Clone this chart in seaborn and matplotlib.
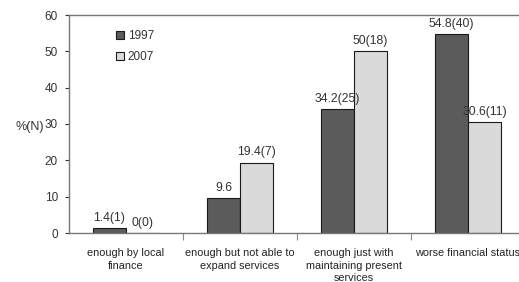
import pandas as pd
import numpy as np
import matplotlib
matplotlib.use('Agg')
import matplotlib.pyplot as plt
import seaborn as sns

# data
categories = [
    'enough by local\nfinance',
    'enough but not able to\nexpand services',
    'enough just with\nmaintaining present\nservices',
    'worse financial status',
]
years = ['1997', '2007']
values_1997 = [1.4, 9.6, 34.2, 54.8]
values_2007 = [0.0, 19.4, 50.0, 30.6]
labels_1997 = ['1.4(1)', '9.6', '34.2(25)', '54.8(40)']
labels_2007 = ['0(0)', '19.4(7)', '50(18)', '30.6(11)']

df = pd.DataFrame({
    'category': categories * 2,
    'year': [years[0]] * len(categories) + [years[1]] * len(categories),
    'value': values_1997 + values_2007,
})

sns.set_style('white')
plt.rcParams['font.family'] = ['Liberation Sans', 'DejaVu Sans']

fig = plt.figure(figsize=(5.19, 2.82), dpi=100)
ax = fig.add_axes([69 / 519, 1 - 233 / 282, 456 / 519, 218 / 282])

sns.barplot(data=df, x='category', y='value', hue='year', ax=ax,
            palette={'1997': '#5b5b5b', '2007': '#dadada'},
            width=0.58, edgecolor='#1a1a1a', linewidth=0.8, saturation=1)

for container, labels in zip(ax.containers, [labels_1997, labels_2007]):
    ax.bar_label(container, labels=labels, padding=3, fontsize=8.8, color='#333333')

ax.set_ylim(0, 60)
ax.set_xlim(-0.5, 3.5)
ax.set_yticks(range(0, 61, 10))
ax.set_xlabel('')
ax.set_ylabel('%(N)', rotation=0, fontsize=9, color='#333333')
ax.yaxis.set_label_coords(-0.085, 0.46)

ax.tick_params(axis='y', labelsize=8.5, colors='#333333', length=3, width=0.8, left=True, pad=5)
ax.tick_params(axis='x', which='major', length=0, pad=11)
ax.set_xticks([0.5, 1.5, 2.5], minor=True)
ax.tick_params(axis='x', which='minor', length=5, width=0.8, bottom=True, color='#888888')
for lbl in ax.get_xticklabels():
    lbl.set_fontsize(7.8)
    lbl.set_color('#222222')
    lbl.set_linespacing(1.3)

for side in ['left', 'bottom', 'top']:
    ax.spines[side].set_color('#777777')
    ax.spines[side].set_linewidth(1.0)
ax.spines['right'].set_visible(False)

leg = ax.legend(loc='upper left', bbox_to_anchor=(0.08, 0.98), frameon=False,
                fontsize=8.5, handlelength=0.7, handleheight=0.7, handletextpad=0.3,
                labelspacing=0.8)
for t in leg.get_texts():
    t.set_color('#333333')

fig.savefig('out.png', dpi=100)
